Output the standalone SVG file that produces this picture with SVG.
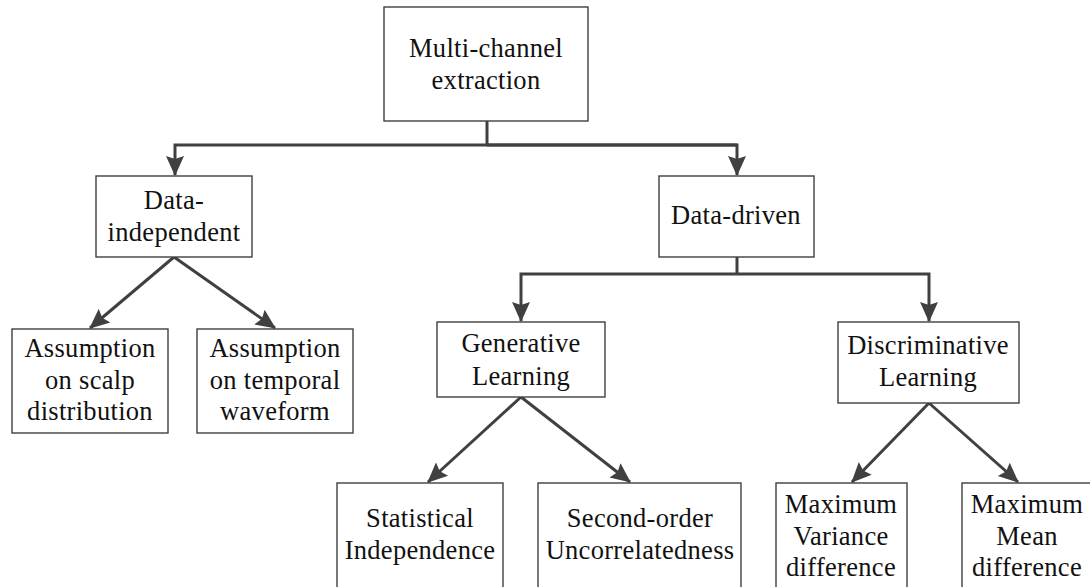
<svg xmlns="http://www.w3.org/2000/svg" width="1090" height="587" viewBox="0 0 1090 587">
  <style>
    .box { fill: #ffffff; stroke: #3f3f3f; stroke-width: 1.4; }
    .lbl { font-family: "Liberation Serif", "Times New Roman", serif; font-size: 26.5px; letter-spacing: 0.3px; fill: #111111; text-anchor: middle; }
    .wire { fill: none; stroke: #404040; stroke-width: 3; }
  </style>
  <defs>
    <marker id="head" viewBox="0 0 20 20" refX="19" refY="10" markerWidth="20" markerHeight="20" markerUnits="userSpaceOnUse" orient="auto">
      <path d="M0,1 L20,10 L0,19 L3,10 z" fill="#404040"/>
    </marker>
  </defs>
  <rect width="1090" height="587" fill="#ffffff"/>

  <!-- connectors -->
  <g id="connectors" class="wire">
    <polyline points="487,121 487,145"/>
    <polyline points="737,145 175,145 175,175" marker-end="url(#head)"/>
    <polyline points="487,145 737,145 737,175" marker-end="url(#head)"/>
    <polyline points="737,257 737,274"/>
    <polyline points="737,274 521,274 521,321" marker-end="url(#head)"/>
    <polyline points="737,274 929,274 929,321" marker-end="url(#head)"/>
    <line x1="174" y1="257" x2="90" y2="328" marker-end="url(#head)"/>
    <line x1="174" y1="257" x2="275" y2="328" marker-end="url(#head)"/>
    <line x1="521" y1="397" x2="428" y2="482" marker-end="url(#head)"/>
    <line x1="521" y1="397" x2="630" y2="482" marker-end="url(#head)"/>
    <line x1="929" y1="403" x2="852" y2="482" marker-end="url(#head)"/>
    <line x1="929" y1="403" x2="1018" y2="482" marker-end="url(#head)"/>
  </g>

  <g id="multi-channel">
    <rect class="box" x="384" y="7" width="204" height="114"/>
    <text class="lbl" x="486" y="57">Multi-channel</text>
    <text class="lbl" x="486" y="89">extraction</text>
  </g>

  <g id="data-independent">
    <rect class="box" x="96" y="176" width="156" height="81"/>
    <text class="lbl" x="174" y="209">Data-</text>
    <text class="lbl" x="174" y="241">independent</text>
  </g>

  <g id="data-driven">
    <rect class="box" x="659" y="176" width="155" height="81"/>
    <text class="lbl" x="736" y="224">Data-driven</text>
  </g>

  <g id="scalp">
    <rect class="box" x="12" y="329" width="156" height="104"/>
    <text class="lbl" x="90" y="357">Assumption</text>
    <text class="lbl" x="90" y="389">on scalp</text>
    <text class="lbl" x="90" y="420">distribution</text>
  </g>

  <g id="temporal">
    <rect class="box" x="197" y="329" width="156" height="104"/>
    <text class="lbl" x="275" y="357">Assumption</text>
    <text class="lbl" x="275" y="389">on temporal</text>
    <text class="lbl" x="275" y="420">waveform</text>
  </g>

  <g id="generative">
    <rect class="box" x="437" y="322" width="168" height="75"/>
    <text class="lbl" x="521" y="352">Generative</text>
    <text class="lbl" x="521" y="385">Learning</text>
  </g>

  <g id="discriminative">
    <rect class="box" x="838" y="322" width="181" height="81"/>
    <text class="lbl" x="928" y="354">Discriminative</text>
    <text class="lbl" x="928" y="386">Learning</text>
  </g>

  <g id="statistical">
    <rect class="box" x="337" y="483" width="166" height="110"/>
    <text class="lbl" x="420" y="527">Statistical</text>
    <text class="lbl" x="420" y="559">Independence</text>
  </g>

  <g id="second-order">
    <rect class="box" x="538" y="483" width="203" height="110"/>
    <text class="lbl" x="640" y="527">Second-order</text>
    <text class="lbl" x="640" y="559">Uncorrelatedness</text>
  </g>

  <g id="max-variance">
    <rect class="box" x="776" y="483" width="131" height="110"/>
    <text class="lbl" x="841" y="513">Maximum</text>
    <text class="lbl" x="841" y="545">Variance</text>
    <text class="lbl" x="841" y="576">difference</text>
  </g>

  <g id="max-mean">
    <rect class="box" x="962" y="483" width="132" height="110"/>
    <text class="lbl" x="1027" y="513">Maximum</text>
    <text class="lbl" x="1027" y="545">Mean</text>
    <text class="lbl" x="1027" y="576">difference</text>
  </g>
</svg>
